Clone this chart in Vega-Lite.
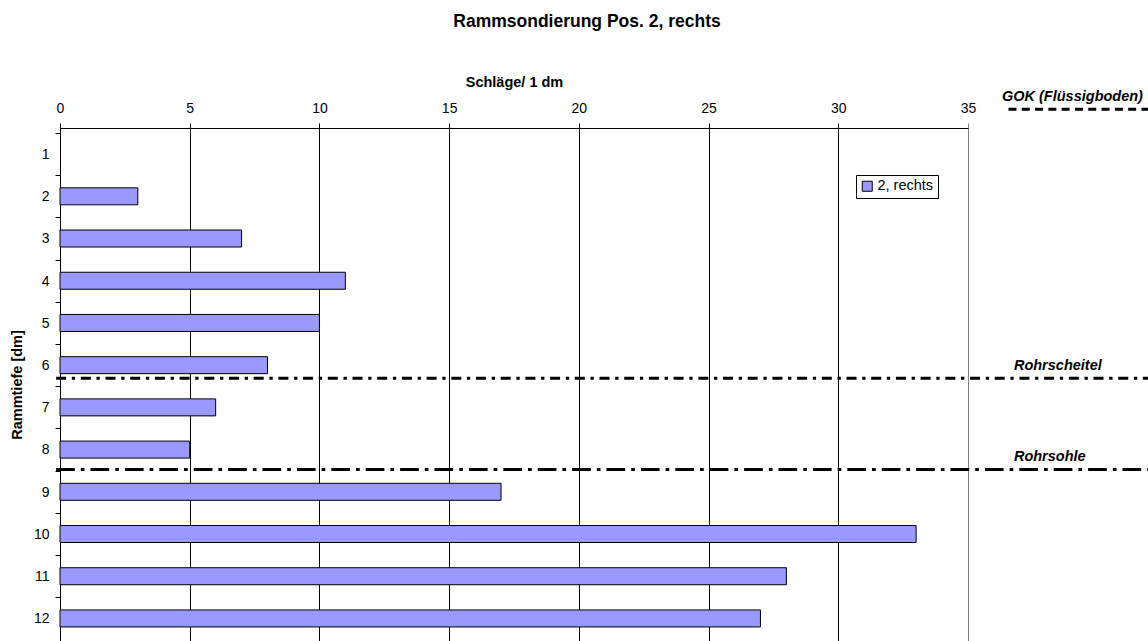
{
  "$schema": "https://vega.github.io/schema/vega-lite/v6.json",
  "width": 908,
  "height": 513,
  "autosize": {"type": "none"},
  "padding": {"left": 60, "top": 128, "right": 180, "bottom": 0},
  "background": "white",
  "config": {
    "view": {"stroke": null},
    "font": "Liberation Sans",
    "text": {"font": "Liberation Sans"}
  },
  "title": {
    "text": "Rammsondierung Pos. 2, rechts",
    "font": "Liberation Sans",
    "fontSize": 17.5,
    "fontWeight": "bold",
    "color": "black",
    "anchor": "middle",
    "frame": "group",
    "dx": 73,
    "dy": -34,
    "offset": 10
  },
  "datasets": {
    "bars": [
      {"tiefe": 2, "schlaege": 3, "serie": "2, rechts"},
      {"tiefe": 3, "schlaege": 7, "serie": "2, rechts"},
      {"tiefe": 4, "schlaege": 11, "serie": "2, rechts"},
      {"tiefe": 5, "schlaege": 10, "serie": "2, rechts"},
      {"tiefe": 6, "schlaege": 8, "serie": "2, rechts"},
      {"tiefe": 7, "schlaege": 6, "serie": "2, rechts"},
      {"tiefe": 8, "schlaege": 5, "serie": "2, rechts"},
      {"tiefe": 9, "schlaege": 17, "serie": "2, rechts"},
      {"tiefe": 10, "schlaege": 33, "serie": "2, rechts"},
      {"tiefe": 11, "schlaege": 28, "serie": "2, rechts"},
      {"tiefe": 12, "schlaege": 27, "serie": "2, rechts"}
    ],
    "lines": [
      {"name": "GOK (Flüssigboden)", "depth": -0.06, "x0": 36.56, "x1": 42, "lx": 36.31},
      {"name": "Rohrscheitel", "depth": 6.31, "x0": -0.15, "x1": 42, "lx": 36.77},
      {"name": "Rohrsohle", "depth": 8.47, "x0": -0.15, "x1": 42, "lx": 36.77}
    ]
  },
  "layer": [
    {
      "data": {"name": "bars"},
      "mark": {"type": "bar", "orient": "horizontal", "size": 17, "stroke": "black", "strokeWidth": 1},
      "encoding": {
        "x": {
          "field": "schlaege", "type": "quantitative",
          "scale": {"domain": [0, 35], "nice": false, "zero": false},
          "axis": {
            "orient": "top",
            "values": [0, 5, 10, 15, 20, 25, 30, 35],
            "grid": true,
            "gridColor": {"condition": {"test": "datum.value === 35", "value": "#808080"}, "value": "black"},
            "gridOpacity": 1,
            "gridWidth": 1,
            "domainColor": "black",
            "tickColor": {"condition": {"test": "datum.value === 35", "value": "#808080"}, "value": "black"},
            "tickSize": 5,
            "labelFont": "Liberation Sans",
            "labelFontSize": 14,
            "labelColor": "black",
            "labelPadding": 8,
            "labelFlush": false,
            "labelOverlap": false,
            "title": "Schläge/ 1 dm",
            "titleFont": "Liberation Sans",
            "titleFontSize": 14.5,
            "titleFontWeight": "bold",
            "titleColor": "black",
            "titleBaseline": "alphabetic",
            "titleY": -42
          }
        },
        "y": {
          "field": "tiefe", "type": "quantitative",
          "scale": {"domain": [0.5, 12.416], "nice": false, "zero": false, "reverse": true},
          "axis": {
            "values": [0.5, 1.5, 2.5, 3.5, 4.5, 5.5, 6.5, 7.5, 8.5, 9.5, 10.5, 11.5],
            "labelExpr": "datum.value + 0.5",
            "labelOffset": 21.5,
            "grid": false,
            "domainColor": "black",
            "tickColor": "black",
            "tickSize": 5,
            "labelFont": "Liberation Sans",
            "labelFontSize": 14,
            "labelColor": "black",
            "labelPadding": 6,
            "labelFlush": false,
            "labelOverlap": false,
            "title": "Rammtiefe [dm]",
            "titleFont": "Liberation Sans",
            "titleFontSize": 14.5,
            "titleFontWeight": "bold",
            "titleColor": "black",
            "titleBaseline": "middle",
            "titleX": -43
          }
        },
        "color": {
          "field": "serie", "type": "nominal",
          "scale": {"domain": ["2, rechts"], "range": ["#9999FF"]},
          "legend": {
            "orient": "none",
            "legendX": 796,
            "legendY": 47,
            "title": null,
            "strokeColor": "black",
            "fillColor": "white",
            "padding": 4,
            "symbolType": "square",
            "symbolSize": 100,
            "symbolStrokeColor": "black",
            "symbolStrokeWidth": 1,
            "symbolOpacity": 1,
            "labelFont": "Liberation Sans",
            "labelFontSize": 14.5,
            "labelColor": "black",
            "labelOffset": 3
          }
        }
      }
    },
    {
      "data": {"name": "lines"},
      "mark": {"type": "rule", "strokeWidth": 3, "color": "black", "strokeCap": "butt"},
      "encoding": {
        "x": {"field": "x0", "type": "quantitative", "scale": {"domain": [0, 35], "nice": false, "zero": false}},
        "x2": {"field": "x1"},
        "y": {"field": "depth", "type": "quantitative", "scale": {"domain": [0.5, 12.416], "nice": false, "zero": false, "reverse": true}},
        "strokeDash": {
          "field": "name", "type": "nominal",
          "scale": {
            "domain": ["GOK (Flüssigboden)", "Rohrscheitel", "Rohrsohle"],
            "range": [[8, 5.3], [10, 5.7, 3.3, 5.7], [18.7, 6, 3.7, 6]]
          },
          "legend": null
        }
      }
    },
    {
      "data": {"name": "lines"},
      "mark": {"type": "text", "font": "Liberation Sans", "fontSize": 14.5, "fontWeight": "bold", "fontStyle": "italic", "align": "left", "baseline": "alphabetic", "dy": -8.5, "color": "black"},
      "encoding": {
        "x": {"field": "lx", "type": "quantitative", "scale": {"domain": [0, 35], "nice": false, "zero": false}},
        "y": {"field": "depth", "type": "quantitative", "scale": {"domain": [0.5, 12.416], "nice": false, "zero": false, "reverse": true}},
        "text": {"field": "name"}
      }
    }
  ]
}
